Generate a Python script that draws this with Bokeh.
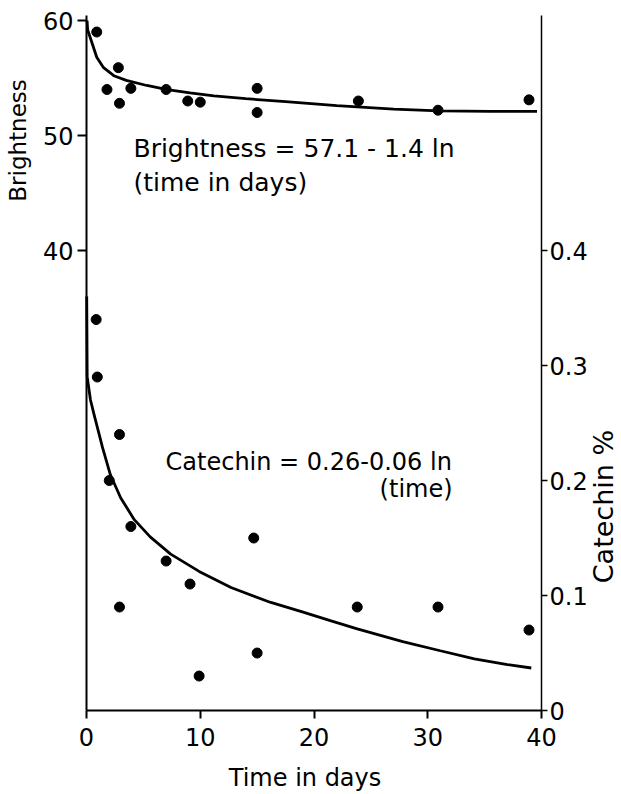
from math import pi
from bokeh.plotting import figure
from bokeh.models import Range1d, LinearAxis, FixedTicker, Label
from bokeh.embed import file_html
from bokeh.resources import INLINE

# ---- data ----
time_brightness = [0.9, 1.8, 2.8, 2.9, 3.9, 7.0, 8.9, 10.0, 15.0, 15.0, 23.9, 30.9, 38.9]
brightness = [59.0, 54.0, 55.9, 52.8, 54.1, 54.0, 53.0, 52.9, 54.1, 52.0, 53.0, 52.2, 53.1]

time_catechin = [0.85, 0.95, 2.0, 2.9, 2.9, 3.9, 7.0, 9.1, 9.9, 14.7, 15.0, 23.8, 30.9, 38.9]
catechin = [0.34, 0.29, 0.20, 0.24, 0.09, 0.16, 0.13, 0.11, 0.03, 0.15, 0.05, 0.09, 0.09, 0.07]

# fitted curves as drawn in the picture
fit_time_brightness = [0.05, 0.1, 0.5, 0.9, 1.5, 2.4, 3.5, 5.3, 7.1, 9.1, 11.2, 14, 17.5, 22, 27, 31, 35.5, 39.6]
fit_brightness = [60.0, 59.2, 58.0, 56.8, 55.9, 55.2, 54.8, 54.35, 54.0, 53.7, 53.45, 53.2, 52.95, 52.6, 52.3, 52.15, 52.1, 52.1]

fit_time_catechin = [0.02, 0.06, 0.35, 0.65, 1.4, 2.1, 3.0, 4.2, 5.6, 7.4, 9.9, 12.7, 16.2, 18.9, 21.5, 23.8, 27.8, 31.1, 34.1, 37.0, 39.1]
fit_catechin = [0.36, 0.29, 0.27, 0.258, 0.229, 0.205, 0.185, 0.166, 0.151, 0.136, 0.121, 0.107, 0.094, 0.086, 0.078, 0.071, 0.060, 0.052, 0.045, 0.040, 0.037]

x_ticks = [0, 10, 20, 30, 40]
brightness_ticks = [40, 50, 60]
catechin_ticks = [0, 0.1, 0.2, 0.3, 0.4]
catechin_tick_labels = ["0", "0.1", "0.2", "0.3", "0.4"]

FONT = "DejaVu Sans"
FS = "24px"

# ranges: the frame fills the whole canvas; axes sit at fixed data locations
X0, X1 = -7.56, 47.03
Y0, Y1 = -7.30, 61.74

p = figure(width=621, height=794, output_backend="svg", toolbar_location=None,
           x_range=Range1d(X0, X1), y_range=Range1d(Y0, Y1),
           min_border_left=0, min_border_right=0, min_border_top=0, min_border_bottom=0)
p.extra_y_ranges = {"cat": Range1d(Y0 / 100, Y1 / 100)}
p.xgrid.visible = False
p.ygrid.visible = False
p.outline_line_color = None
p.background_fill_color = "white"
p.border_fill_color = "white"

def style(ax, tick_out, standoff, lw):
    ax.axis_line_color = "black"
    ax.axis_line_width = lw
    ax.major_tick_line_color = "black"
    ax.major_tick_line_width = lw
    ax.major_tick_out = tick_out
    ax.major_tick_in = 0
    ax.minor_tick_line_color = None
    ax.major_label_text_font = FONT
    ax.major_label_text_font_size = FS
    ax.major_label_text_color = "black"
    ax.major_label_standoff = standoff

xa = p.xaxis[0]
xa.ticker = FixedTicker(ticks=x_ticks)
xa.fixed_location = 0
xa.bounds = (0, 40)
style(xa, 8, 9, 2)

ya = p.yaxis[0]
ya.ticker = FixedTicker(ticks=brightness_ticks)
ya.fixed_location = 0
ya.bounds = (0, 60.4)
style(ya, 9, 4, 2)

ra = LinearAxis(y_range_name="cat", ticker=FixedTicker(ticks=catechin_ticks),
                fixed_location=40, bounds=(0, 0.604))
style(ra, 6, 2, 1.5)
ra.major_label_overrides = {t: s for t, s in zip(catechin_ticks, catechin_tick_labels)}
p.add_layout(ra, "right")

# curves and points
p.line(fit_time_brightness, fit_brightness, line_color="black", line_width=2.8)
p.scatter(time_brightness, brightness, size=10, fill_color="black", line_color="black")

p.line(fit_time_catechin, fit_catechin, line_color="black", line_width=2.8, y_range_name="cat")
p.scatter(time_catechin, catechin, size=10, fill_color="black", line_color="black", y_range_name="cat")

def lab(x, y, text, size=FS, angle=0, align="left", baseline="alphabetic"):
    p.add_layout(Label(x=x, y=y, text=text, angle=angle, text_align=align,
                       text_baseline=baseline, text_font=FONT, text_font_size=size,
                       text_color="black"))

# axis titles
lab(-6.02, 49.57, "Brightness", size="23px", angle=pi / 2, align="center")
lab(45.41, 17.74, "Catechin %", size="27px", angle=pi / 2, align="center")
lab(19.21, -5.88, "Time in days", align="center")
# equations
lab(4.13, 48.85, "Brightness = 57.1 - 1.4 ln", size="25px")
lab(4.13, 45.89, "(time in days)", size="25px")
lab(6.95, 21.60, "Catechin = 0.26-0.06 ln")
lab(32.18, 19.25, "(time)", align="right")

open("out.html", "w").write(file_html(p, INLINE))
